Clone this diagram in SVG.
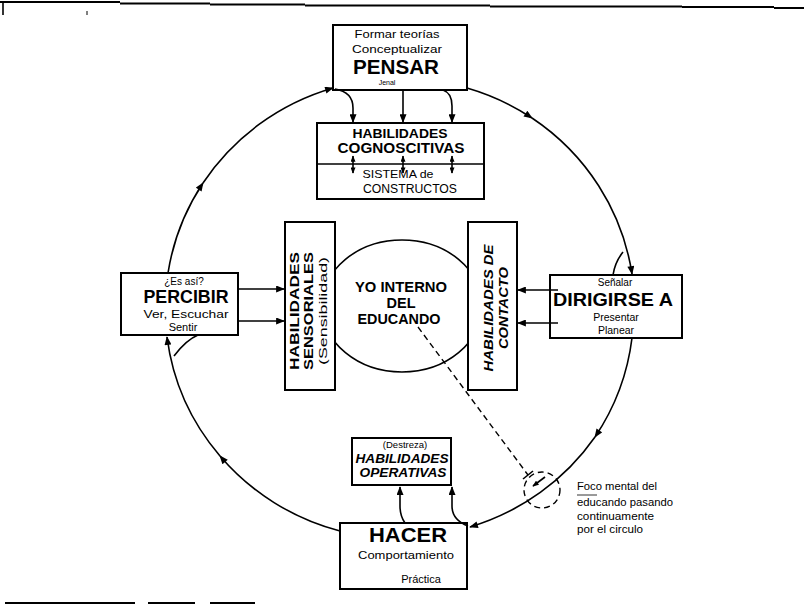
<svg xmlns="http://www.w3.org/2000/svg" width="804" height="605" viewBox="0 0 804 605">
<style>
.box{fill:#fff;stroke:#000;stroke-width:2}
.ln{fill:none;stroke:#000;stroke-width:1.6}
.dash{fill:none;stroke:#000;stroke-width:1.4;stroke-dasharray:6 4}
.t{font-family:"Liberation Sans",Arial,Helvetica,sans-serif;fill:#000}
.b{font-weight:bold}
.i{font-style:italic}
.m{text-anchor:middle}
</style>
<defs>
<marker id="ah" viewBox="0 0 10 8" refX="9" refY="4" markerWidth="10" markerHeight="7" markerUnits="userSpaceOnUse" orient="auto"><path d="M0,0 L10,4 L0,8 z" fill="#000"/></marker>
<marker id="ahs" viewBox="0 0 10 8" refX="9" refY="4" markerWidth="7" markerHeight="5" markerUnits="userSpaceOnUse" orient="auto-start-reverse"><path d="M0,0 L10,4 L0,8 z" fill="#000"/></marker>
</defs>

<!-- page rules -->
<g id="rules" fill="none" stroke="#000">
<path d="M0,2 H120 M120,3.5 H210 M210,4.5 H305 M305,5.5 H490 M490,6.5 H682 M682,7 H774 M774,8 H804" stroke-width="2"/>
<path d="M3,3 V15" stroke-width="1.6"/>
<path d="M87,11 V15" stroke-width="1"/>
<path d="M5,603 H135 M148,603 H195 M210,603 H255" stroke-width="2"/>
</g>

<!-- inner self -->
<g id="yo">
<ellipse cx="402" cy="306" rx="80" ry="66" fill="#fff" stroke="#000" stroke-width="1.6"/>
<text class="t b m" x="401" y="292" font-size="14.5" textLength="92" lengthAdjust="spacingAndGlyphs">YO INTERNO</text>
<text class="t b m" x="401" y="308" font-size="14.5">DEL</text>
<text class="t b m" x="399" y="324" font-size="14.5" textLength="83" lengthAdjust="spacingAndGlyphs">EDUCANDO</text>
</g>

<g id="pensar">
<rect class="box" x="333" y="25" width="134" height="65"/>
<text class="t m" x="397" y="38" font-size="11" textLength="85" lengthAdjust="spacingAndGlyphs">Formar teorías</text>
<text class="t m" x="397" y="53" font-size="11" textLength="90" lengthAdjust="spacingAndGlyphs">Conceptualizar</text>
<text class="t b m" x="396" y="74" font-size="20" textLength="86" lengthAdjust="spacingAndGlyphs">PENSAR</text>
<text class="t m" x="387" y="85" font-size="7">Jenal</text>
</g>

<g id="cognoscitivas">
<rect class="box" x="317" y="123" width="167" height="76"/>
<path d="M317,164 H484" stroke="#000" stroke-width="1.6"/>
<text class="t b m" x="400" y="138" font-size="13.5" textLength="95" lengthAdjust="spacingAndGlyphs">HABILIDADES</text>
<text class="t b m" x="401" y="153" font-size="14" textLength="127" lengthAdjust="spacingAndGlyphs">COGNOSCITIVAS</text>
<text class="t m" x="398" y="178" font-size="11.5" textLength="71" lengthAdjust="spacingAndGlyphs">SISTEMA de</text>
<text class="t m" x="410" y="193" font-size="12" textLength="94" lengthAdjust="spacingAndGlyphs">CONSTRUCTOS</text>
</g>

<g id="percibir">
<rect class="box" x="121" y="273" width="117" height="62"/>
<text class="t m" x="184" y="285" font-size="10">¿Es así?</text>
<text class="t b m" x="186" y="303" font-size="18" textLength="85" lengthAdjust="spacingAndGlyphs">PERCIBIR</text>
<text class="t m" x="186" y="318" font-size="11" textLength="85" lengthAdjust="spacingAndGlyphs">Ver, Escuchar</text>
<text class="t m" x="183" y="331" font-size="11">Sentir</text>
</g>

<g id="dirigirse">
<rect class="box" x="550" y="275" width="132" height="63"/>
<text class="t m" x="615" y="286" font-size="10">Señalar</text>
<text class="t b m" x="613" y="306" font-size="19" textLength="120" lengthAdjust="spacingAndGlyphs">DIRIGIRSE A</text>
<text class="t m" x="616" y="321" font-size="10.5">Presentar</text>
<text class="t m" x="616" y="334" font-size="10.5">Planear</text>
</g>

<g id="sensoriales">
<rect class="box" x="285" y="222" width="50" height="168"/>
<text class="t b m" transform="translate(299,311) rotate(-90)" font-size="13" textLength="118" lengthAdjust="spacingAndGlyphs">HABILIDADES</text>
<text class="t b m" transform="translate(313,311) rotate(-90)" font-size="13" textLength="118" lengthAdjust="spacingAndGlyphs">SENSORIALES</text>
<text class="t m" transform="translate(327,311) rotate(-90)" font-size="11" textLength="108" lengthAdjust="spacingAndGlyphs">(Sensibilidad)</text>
</g>

<g id="contacto">
<rect class="box" x="468" y="222" width="49" height="168"/>
<text class="t b i m" transform="translate(493,308) rotate(-90)" font-size="13" textLength="127" lengthAdjust="spacingAndGlyphs">HABILIDADES DE</text>
<text class="t b i m" transform="translate(508,308) rotate(-90)" font-size="13" textLength="82" lengthAdjust="spacingAndGlyphs">CONTACTO</text>
</g>

<g id="operativas">
<rect class="box" x="352" y="438" width="99" height="47"/>
<text class="t m" x="405" y="448" font-size="9.5">(Destreza)</text>
<text class="t b i m" x="402" y="463" font-size="13" textLength="93" lengthAdjust="spacingAndGlyphs">HABILIDADES</text>
<text class="t b i m" x="403" y="477" font-size="13" textLength="87" lengthAdjust="spacingAndGlyphs">OPERATIVAS</text>
</g>

<g id="hacer">
<rect class="box" x="340" y="523" width="127" height="66"/>
<text class="t b m" x="408" y="542" font-size="20" textLength="78" lengthAdjust="spacingAndGlyphs">HACER</text>
<text class="t m" x="406" y="559" font-size="11" textLength="96" lengthAdjust="spacingAndGlyphs">Comportamiento</text>
<text class="t m" x="421" y="583" font-size="11">Práctica</text>
</g>

<g id="foco">
<circle class="dash" cx="542" cy="490" r="18"/>
<text class="t" x="577" y="490" font-size="10" textLength="80" lengthAdjust="spacingAndGlyphs">Foco mental del</text>
<path d="M577,495 H597" stroke="#000" stroke-width="0.8"/>
<text class="t" x="577" y="506" font-size="10" textLength="96" lengthAdjust="spacingAndGlyphs">educando pasando</text>
<text class="t" x="577" y="520" font-size="10" textLength="77" lengthAdjust="spacingAndGlyphs">continuamente</text>
<text class="t" x="577" y="533" font-size="10" textLength="66" lengthAdjust="spacingAndGlyphs">por el circulo</text>
</g>

<!-- connectors -->
<g id="connectors">
<!-- main cycle -->
<path class="ln" d="M168,273 A235,230 0 0 1 203,183" marker-end="url(#ah)"/>
<path class="ln" d="M203,183 A235,230 0 0 1 333,88" marker-end="url(#ah)"/>
<path class="ln" d="M467,88 A235,230 0 0 1 532,118" marker-end="url(#ah)"/>
<path class="ln" d="M532,118 A235,230 0 0 1 632,274" marker-end="url(#ah)"/>
<path class="ln" d="M623,252 Q615,262 613,275"/>
<path class="ln" d="M632,338 A235,230 0 0 1 595,437" marker-end="url(#ah)"/>
<path class="ln" d="M595,437 A235,230 0 0 1 470,527" marker-end="url(#ah)"/>
<path class="ln" d="M340,531 A235,230 0 0 1 220,456" marker-end="url(#ah)"/>
<path class="ln" d="M220,456 A235,230 0 0 1 167,337" marker-end="url(#ah)"/>
<path class="ln" d="M174,356 Q186,340 198,335"/>
<!-- pensar to cognoscitivas -->
<path class="ln" d="M335,89 Q353,92 353,108 L353,122" marker-end="url(#ah)"/>
<path class="ln" d="M403,90 L403,122" marker-end="url(#ah)"/>
<path class="ln" d="M443,90 Q452,93 452,106 L452,122" marker-end="url(#ah)"/>
<path class="ln" d="M353,156 V173" marker-start="url(#ahs)" marker-end="url(#ahs)"/>
<path class="ln" d="M403,156 V173" marker-start="url(#ahs)" marker-end="url(#ahs)"/>
<path class="ln" d="M452,156 V173" marker-start="url(#ahs)" marker-end="url(#ahs)"/>
<!-- percibir to sensoriales -->
<path class="ln" d="M239,289 L284,289" marker-end="url(#ah)"/>
<path class="ln" d="M239,321 L284,321" marker-end="url(#ah)"/>
<!-- dirigirse to contacto -->
<path class="ln" d="M558,290 L518,290" marker-end="url(#ah)"/>
<path class="ln" d="M558,323 L518,323" marker-end="url(#ah)"/>
<!-- hacer to operativas -->
<path class="ln" d="M405,523 Q400,516 400,506 L400,487" marker-end="url(#ah)"/>
<path class="ln" d="M468,526 Q452,520 452,506 L452,487" marker-end="url(#ah)"/>
<!-- mental focus -->
<path class="dash" d="M418,327 L528,475"/>
<path class="ln" d="M523,479 L533,471"/>
<path class="ln" d="M545,477 L533,486" marker-end="url(#ahs)"/>
</g>
</svg>
